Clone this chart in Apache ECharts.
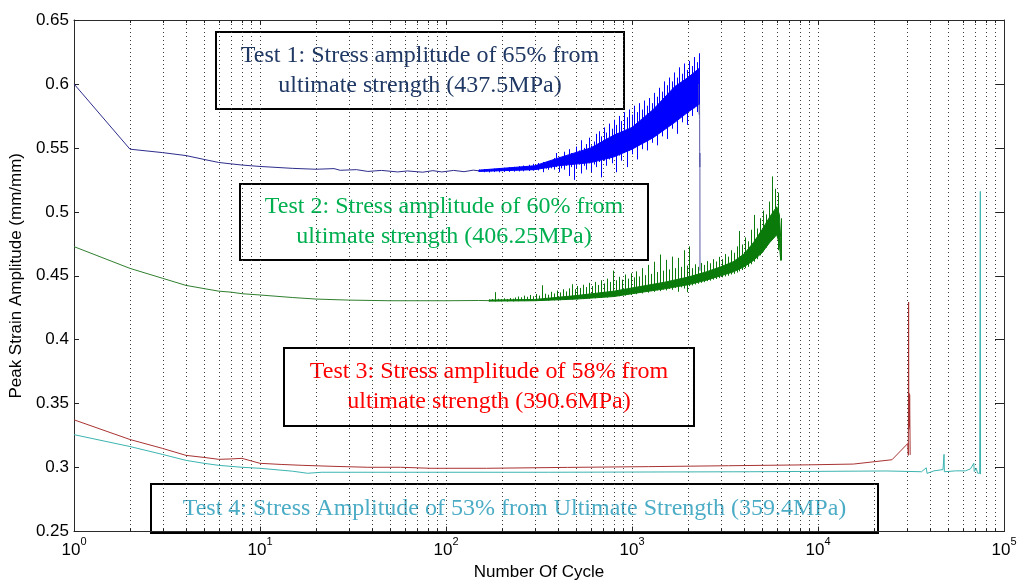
<!DOCTYPE html>
<html>
<head>
<meta charset="utf-8">
<script src="https://cdn.jsdelivr.net/npm/echarts@6/dist/echarts.min.js"></script>
<style>
  html, body { margin: 0; padding: 0; background: #fff; }
  #chart { width: 1020px; height: 586px; }
</style>
</head>
<body>
<div id="chart"></div>
<script>
// ---- axis labels ----
const xExponents = ['0', '1', '2', '3', '4', '5'];
const yTickLabels = ['0.25', '0.3', '0.35', '0.4', '0.45', '0.5', '0.55', '0.6', '0.65'];
const gridCycles = [2, 3, 4, 5, 6, 7, 8, 9, 10, 20, 30, 40, 50, 60, 70, 80, 90, 100,
  200, 300, 400, 500, 600, 700, 800, 900, 1000, 2000, 3000, 4000, 5000, 6000, 7000, 8000, 9000,
  10000, 20000, 30000, 40000, 50000, 60000, 70000, 80000, 90000];

// ---- Test 1 (437.5 MPa) ----
const t1X = [1, 2, 3, 4, 5, 6, 7, 8, 9, 10, 15, 20, 25, 27, 33, 38, 45, 55, 62, 75, 85, 95, 110, 125, 140, 150];
const t1Y = [0.600, 0.549, 0.5463, 0.544, 0.541, 0.5386, 0.5375, 0.5366, 0.536, 0.5355, 0.534, 0.5333,
  0.5338, 0.5325, 0.5330, 0.5316, 0.5324, 0.5312, 0.5320, 0.5310, 0.5322, 0.5312, 0.5324, 0.5314, 0.5326, 0.5321];
const t1NoiseX = [150, 155, 160, 165, 170, 175, 181, 186, 192, 198, 204, 211, 217, 224, 231, 238, 246, 253, 261, 269,
  278, 286, 295, 304, 314, 324, 334, 344, 355, 366,
  380, 392, 404, 417, 430, 444, 458, 472, 487, 502, 518, 534, 551, 568, 586, 605, 624, 644, 664, 685,
  707, 729, 752, 776, 800, 825, 851, 878, 906, 935, 965, 995, 1026, 1058, 1092, 1126, 1162, 1198, 1236, 1275,
  1315, 1357, 1400, 1444, 1490, 1537, 1585, 1635, 1687, 1740, 1795, 1852, 1910, 1970, 2032, 2096, 2162, 2230, 2290];
const t1NoiseLo = [.5312, .5318, .5310, .5316, .5308, .5317, .5311, .5318, .5309, .5319, .5312, .5320, .5313, .5322, .5314,
  .5323, .5316, .5325, .5317, .5327, .5319, .5330, .5322, .5332, .5324, .5335, .5310, .5338, .5329, .5340,
  .533, .535, .531, .534, .533, .536, .528, .535, .525, .534, .537, .530, .536, .533, .538, .531, .537, .535, .539, .527,
  .540, .536, .541, .538, .543, .531, .544, .540, .546, .535, .548, .545, .550, .541, .553, .549, .555, .548, .557, .554,
  .560, .552, .563, .559, .566, .557, .568, .565, .571, .561, .574, .570, .577, .568, .579, .575, .581, .578, .584];
const t1NoiseHi = [.5330, .5328, .5335, .5330, .5334, .5332, .5338, .5335, .5340, .5337, .5345, .5340, .5348, .5342, .5352,
  .5346, .5357, .5350, .5362, .5355, .5368, .5360, .5375, .5366, .5382, .5372, .5390, .5380, .5398, .5388,
  .542, .546, .543, .541, .547, .544, .549, .546, .544, .551, .548, .556, .550, .553, .558, .552, .555, .561, .563, .559,
  .566, .562, .569, .565, .572, .568, .575, .571, .578, .574, .580, .576, .583, .578, .585, .580, .587, .583, .589, .585,
  .593, .590, .597, .594, .602, .599, .605, .602, .609, .605, .613, .608, .616, .611, .618, .614, .621, .617, .624];
// dense core of the oscillation band
const t1CoreX = [150, 300, 400, 600, 800, 1000, 1300, 1700, 2000, 2290];
const t1CoreLo = [0.5316, 0.5330, 0.5360, 0.5385, 0.5430, 0.5490, 0.5580, 0.5700, 0.5780, 0.5840];
const t1CoreHi = [0.5326, 0.5360, 0.5420, 0.5500, 0.5600, 0.5660, 0.5800, 0.5980, 0.6050, 0.6120];
const t1DropX = [2290, 2300, 2305, 2310, 2312, 2314, 2316, 2318, 2320];
const t1DropY = [0.600, 0.576, 0.598, 0.572, 0.547, 0.535, 0.546, 0.534, 0.454];

// ---- Test 2 (406.25 MPa) ----
const t2X = [1, 2, 3, 4, 5, 6, 7, 8, 10, 15, 20, 30, 50, 100, 150, 170];
const t2Y = [0.4728, 0.4558, 0.448, 0.4425, 0.440, 0.438, 0.4372, 0.436, 0.435, 0.433, 0.4318, 0.431, 0.4305, 0.4305, 0.4307, 0.4306];
const t2NoiseX = [170, 176, 183, 190, 197, 204, 212, 220, 228, 236, 245, 254, 264, 274, 284, 294, 305, 317, 328, 341,
  353, 366, 380, 394, 409, 424, 440, 456, 473, 491, 509, 528, 548, 568, 589, 611, 634, 657, 682, 707,
  733, 761, 789, 818, 849, 880, 913, 947, 982, 1019, 1057, 1096, 1136, 1179, 1222, 1268, 1315, 1364, 1414, 1467,
  1521, 1578, 1636, 1697, 1760, 1826, 1893, 1964, 2036, 2112, 2190, 2272, 2356, 2444, 2534, 2629, 2726, 2827, 2932, 3041,
  3154, 3271, 3392, 3518, 3648, 3784, 3924, 4070, 4221, 4377, 4540, 4708, 4883, 5064, 5252, 5447, 5649, 5858, 6075, 6300];
const t2NoiseLo = [.4300, .4303, .4299, .4302, .4300, .4304, .4299, .4303, .4300, .4305,
  .4301, .4306, .4302, .4307, .4303, .4308, .4304, .4309, .4305, .4310,
  .4306, .4312, .4308, .4313, .4309, .4315, .4311, .4317, .4313, .4319,
  .4315, .4322, .4318, .4325, .4321, .4328, .4324, .4332, .4328, .4336,
  .4330, .4340, .4336, .4345, .4340, .4350, .4345, .4356, .4350, .4362,
  .4356, .4368, .4362, .4375, .4368, .4380, .4374, .4386, .4380, .4392,
  .4386, .4398, .4390, .4405, .4375, .4410, .4400, .4372, .4420, .4425,
  .4432, .4438, .4445, .4450, .4458, .4462, .4470, .4475, .4482, .4488,
  .4495, .4500, .4510, .4515, .4525, .4535, .4545, .4560, .4570, .4590,
  .4610, .4630, .4660, .4690, .4720, .4760, .4800, .4850, .4700, .4620];
const t2NoiseHi = [.4315, .4318, .4372, .4320, .4317, .4324, .4319, .4326, .4321, .4330,
  .4338, .4332, .4345, .4336, .4350, .4340, .4358, .4345, .4426, .4360,
  .4352, .4375, .4362, .4385, .4370, .4395, .4378, .4402, .4434, .4395,
  .4420, .4405, .4430, .4412, .4445, .4420, .4452, .4428, .4465, .4440,
  .4478, .4452, .4540, .4465, .4492, .4470, .4510, .4478, .4520, .4488,
  .4535, .4495, .4560, .4505, .4585, .4515, .4610, .4530, .4666, .4540,
  .4625, .4550, .4650, .4560, .4640, .4570, .4700, .4580, .4730, .4560,
  .4590, .4570, .4600, .4585, .4615, .4598, .4630, .4612, .4648, .4630,
  .4670, .4650, .4700, .4680, .4730, .4850, .4745, .4800, .4770, .4860,
  .4976, .4870, .4950, .5010, .4980, .5080, .5277, .5180, .5150, .4950];
const t2CoreX = [170, 300, 500, 800, 1000, 1500, 2000, 2500, 3000, 3500, 4000, 4500, 5000, 5500, 6000, 6200, 6300];
const t2CoreLo = [0.4302, 0.4305, 0.4318, 0.4338, 0.4360, 0.4398, 0.4430, 0.4465, 0.4500, 0.4530, 0.4570, 0.4620, 0.4680, 0.4760, 0.4820, 0.4750, 0.4620];
const t2CoreHi = [0.4310, 0.4315, 0.4345, 0.4380, 0.4405, 0.4450, 0.4490, 0.4530, 0.4570, 0.4610, 0.4670, 0.4760, 0.4860, 0.4960, 0.5040, 0.4980, 0.4800];

// ---- Test 3 (390.6 MPa) ----
const t3X = [1, 2, 3, 4, 5, 6, 7, 8, 9, 10, 13, 17, 25, 38, 57, 83, 165, 450, 1230, 3300, 8900, 15500, 25000,
  30400, 30600, 30700, 30800, 30900, 31000, 31100, 31200, 31300];
const t3Y = [0.3374, 0.322, 0.315, 0.3096, 0.308, 0.3065, 0.3068, 0.3073, 0.3052, 0.3034, 0.3025, 0.3018, 0.301, 0.3003,
  0.3003, 0.2995, 0.2995, 0.3002, 0.3008, 0.3015, 0.3022, 0.3028, 0.3062,
  0.3189, 0.3096, 0.4295, 0.3300, 0.3580, 0.3320, 0.3570, 0.3340, 0.3100];

// ---- Test 4 (359.4 MPa) ----
const t4X = [1, 2, 3, 4, 5, 6, 8, 10, 15, 18, 21.5, 100, 355, 4300, 23500, 36000, 38200, 38600, 42000, 47000, 47600,
  47800, 55000, 62000, 66000, 68800, 69200, 71000, 72000, 74000, 74600, 74800];
const t4Y = [0.3258, 0.3165, 0.3103, 0.3057, 0.3034, 0.3018, 0.3003, 0.2995, 0.2972, 0.2956, 0.2964, 0.2964, 0.2964,
  0.2968, 0.2974, 0.2968, 0.2999, 0.2955, 0.2975, 0.2985, 0.3104, 0.2968, 0.2975, 0.2975, 0.299, 0.3034, 0.297,
  0.2995, 0.2958, 0.2955, 0.516, 0.2949];

// ---- annotation texts ----
const noteTexts = [
  'Test 1: Stress amplitude of 65% from\nultimate strength (437.5MPa)',
  'Test 2: Stress amplitude of 60% from\nultimate strength (406.25MPa)',
  'Test 3: Stress amplitude of 58% from\nultimate strength (390.6MPa)',
  'Test 4: Stress Amplitude of 53% from Ultimate Strength (359.4MPa)'
];

const pairs = (xs, ys) => xs.map((x, i) => [x, ys[i]]);

const SANS = '"Liberation Sans", Arial, Helvetica, sans-serif';
const SERIF = '"Liberation Serif", "Times New Roman", serif';
const Y_MIN = 0.25, Y_MAX = 0.65;

function lineSeries(data, color, width) {
  return {
    type: 'line', data, showSymbol: false, symbol: 'none', silent: true,
    lineStyle: { color, width: width || 1 }, z: 3, clip: true
  };
}

// filled envelope between a lower and an upper bound
function bandSeries(xs, lo, hi, color) {
  return {
    type: 'custom', silent: true, z: 3, clip: true,
    data: [[xs[0], lo[0]]],
    encode: { x: 0, y: 1 },
    renderItem(params, api) {
      const pts = xs.map((x, i) => api.coord([x, hi[i]]))
        .concat(xs.map((x, i) => api.coord([x, lo[i]])).reverse());
      return { type: 'polygon', shape: { points: pts }, style: { fill: color, stroke: color, lineWidth: 1 } };
    }
  };
}

// one vertical stroke per sample, spanning its min..max reading
function swingSeries(xs, lo, hi, color) {
  return {
    type: 'custom', silent: true, z: 4, clip: true,
    data: xs.map((x, i) => [x, lo[i], hi[i]]),
    encode: { x: 0, y: [1, 2] },
    renderItem(params, api) {
      const a = api.coord([api.value(0), api.value(1)]);
      const b = api.coord([api.value(0), api.value(2)]);
      const x = Math.round(a[0]) + 0.5;
      return { type: 'line', shape: { x1: x, y1: a[1], x2: x, y2: b[1] }, style: { stroke: color, lineWidth: 1 } };
    }
  };
}

// dotted log grid with short inner ticks on top and bottom edges
const gridSeries = {
  type: 'custom', silent: true, z: 1,
  data: gridCycles.map(v => [v, Y_MIN]),
  encode: { x: 0, y: 1 },
  renderItem(params, api) {
    const v = api.value(0);
    const top = api.coord([v, Y_MAX]);
    const bot = api.coord([v, Y_MIN]);
    const x = Math.round(top[0]) + 0.5;
    const isDecade = Math.abs(Math.log10(v) - Math.round(Math.log10(v))) < 1e-9;
    const tick = isDecade ? 5 : 3;
    return {
      type: 'group',
      children: [
        { type: 'line', shape: { x1: x, y1: top[1], x2: x, y2: bot[1] },
          style: { stroke: '#3a3a3a', lineWidth: 1, lineDash: [1, 3] } },
        { type: 'line', shape: { x1: x, y1: bot[1], x2: x, y2: bot[1] - tick },
          style: { stroke: '#222', lineWidth: 1 } },
        { type: 'line', shape: { x1: x, y1: top[1], x2: x, y2: top[1] + tick },
          style: { stroke: '#222', lineWidth: 1 } }
      ]
    };
  }
};

const boxes = [
  { left: 215, top: 31, w: 408, h: 77, color: '#1f3864' },
  { left: 239, top: 183, w: 408, h: 76, color: '#00b050' },
  { left: 283, top: 347, w: 410, h: 78, color: '#ff0000' },
  { left: 150, top: 483, w: 727, h: 49, color: '#4bacc6' }
];

const chart = echarts.init(document.getElementById('chart'), null, { renderer: 'canvas' });
chart.setOption({
  animation: false,
  backgroundColor: '#ffffff',
  textStyle: { fontFamily: SANS },
  grid: { left: 72, top: 20, right: 16, bottom: 49, containLabel: false },
  xAxis: [{
    type: 'log', logBase: 10, min: 1, max: 100000,
    axisLine: { lineStyle: { color: '#2b2b2b', width: 1 } },
    axisTick: { show: false },
    splitLine: { show: false },
    axisLabel: {
      margin: 5, color: '#000',
      formatter: v => '{b|10}{s|' + xExponents[Math.round(Math.log10(v))] + '}',
      rich: {
        b: { fontSize: 17, fontFamily: SANS, color: '#000', lineHeight: 28 },
        s: { fontSize: 11, fontFamily: SANS, color: '#000', lineHeight: 11, verticalAlign: 'top' }
      }
    },
    name: 'Number Of Cycle', nameLocation: 'middle', nameGap: 31,
    nameTextStyle: { fontSize: 17, color: '#000', fontFamily: SANS }
  }, {
    type: 'log', logBase: 10, min: 1, max: 100000, position: 'top',
    axisLine: { lineStyle: { color: '#2b2b2b', width: 1 } },
    axisTick: { show: false }, axisLabel: { show: false }, splitLine: { show: false }
  }],
  yAxis: [{
    type: 'value', min: Y_MIN, max: Y_MAX, interval: 0.05,
    axisLine: { show: true, lineStyle: { color: '#2b2b2b', width: 1 } },
    axisTick: { show: true, inside: true, length: 5, lineStyle: { color: '#222' } },
    splitLine: { show: false },
    axisLabel: {
      margin: 5, fontSize: 17, color: '#000', fontFamily: SANS,
      formatter: v => yTickLabels[Math.round((v - Y_MIN) / 0.05)]
    },
    name: 'Peak Strain Amplitude (mm/mm)', nameLocation: 'middle', nameGap: 46,
    nameTextStyle: { fontSize: 17, color: '#000', fontFamily: SANS }
  }, {
    type: 'value', min: Y_MIN, max: Y_MAX, interval: 0.05, position: 'right',
    axisLine: { show: true, lineStyle: { color: '#2b2b2b', width: 1 } },
    axisTick: { show: true, inside: true, length: 9, lineStyle: { color: '#222' } },
    axisLabel: { show: false }, splitLine: { show: false }
  }],
  series: [
    gridSeries,
    lineSeries(pairs(t1X, t1Y), '#2d2d8c'),
    bandSeries(t1CoreX, t1CoreLo, t1CoreHi, '#0000ff'),
    swingSeries(t1NoiseX, t1NoiseLo, t1NoiseHi, '#0000ff'),
    lineSeries(pairs(t1DropX, t1DropY), '#5a5aa8'),
    lineSeries(pairs(t2X, t2Y), '#2f7f2f'),
    bandSeries(t2CoreX, t2CoreLo, t2CoreHi, '#0a7a0a'),
    swingSeries(t2NoiseX, t2NoiseLo, t2NoiseHi, '#0a7a0a'),
    lineSeries(pairs(t3X, t3Y), '#a83232'),
    lineSeries(pairs(t4X, t4Y), '#3cb4b0')
  ],
  graphic: boxes.map((b, i) => ({
    type: 'group', left: b.left, top: b.top, z: 100,
    children: [
      { type: 'rect', shape: { x: 0, y: 0, width: b.w, height: b.h },
        style: { fill: '#ffffff', stroke: '#000', lineWidth: 2 } },
      { type: 'text', x: b.w / 2, y: b.h / 2,
        style: { text: noteTexts[i], fill: b.color, font: '24px ' + SERIF,
                 align: 'center', verticalAlign: 'middle', lineHeight: 30 } }
    ]
  }))
});
</script>
</body>
</html>
